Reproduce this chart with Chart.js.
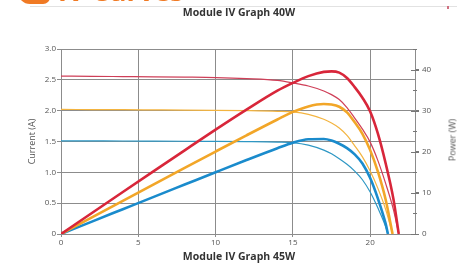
<!DOCTYPE html>
<html>
<head>
<meta charset="utf-8">
<script src="https://cdn.jsdelivr.net/npm/chart.js@4/dist/chart.umd.min.js"></script>
<style>
  body { margin: 0; background: #fff; font-family: "Open Sans", sans-serif; }
  #wrap { position: relative; width: 457px; height: 263px; overflow: hidden; }
  #grafico { position: absolute; left: 0; top: 0; }
  .hdr { position: absolute; left: 58px; top: -23px; font: bold 27px "Open Sans", sans-serif; color: #f07a24; line-height: 1; white-space: nowrap; }
  .logo { position: absolute; left: 18px; top: -8px; width: 32px; height: 12px; background: #f07a24; border-radius: 0 0 8px 14px; }
  .linha { position: absolute; left: 30px; right: 0; top: 6px; border-top: 1px solid #e2e2e2; }
  .marca { position: absolute; left: 447px; top: 6px; width: 2px; height: 3px; background: #d07080; }
  .titulo { position: absolute; left: 0; width: 478px; text-align: center; font: bold 10.5px "Open Sans", sans-serif; color: #333; }
  .eixoDir { position: absolute; left: 452px; top: 140px; transform: translate(-50%, -50%) rotate(-90deg); font: 9px "Open Sans", sans-serif; color: #555; white-space: nowrap; }
</style>
</head>
<body>
<div id="wrap">
  <canvas id="grafico" width="457" height="263"></canvas>
  <div class="logo"></div>
  <div class="hdr">IV Curves</div>
  <div class="linha"></div>
  <div class="marca"></div>
  <div class="titulo" style="top:5px">Module IV Graph 40W</div>
  <div class="titulo" style="top:249px">Module IV Graph 45W</div>
  <div class="eixoDir">Power (W)</div>
</div>
<script>
// tensao (V), corrente (A) e potencia (W)
var vermelhoV = [0, 2, 4, 6, 8, 10, 12, 14, 15, 16, 17, 17.5, 18, 18.5, 19, 19.5, 20, 20.5, 21, 21.5, 21.85];
var vermelhoI = [2.56, 2.557, 2.553, 2.549, 2.544, 2.537, 2.52, 2.49, 2.45, 2.40, 2.32, 2.26, 2.18, 2.05, 1.88, 1.70, 1.49, 1.19, 0.82, 0.40, 0];
var vermelhoP = [0, 5.11, 10.21, 15.29, 20.35, 25.37, 30.24, 34.86, 36.75, 38.4, 39.44, 39.55, 39.24, 37.93, 35.72, 33.15, 29.8, 24.4, 17.2, 8.6, 0];

var laranjaV = [0, 2, 4, 6, 8, 10, 12, 14, 15, 16, 17, 17.5, 18, 18.5, 19, 19.5, 20, 20.5, 21, 21.45];
var laranjaI = [2.02, 2.018, 2.016, 2.013, 2.01, 2.006, 2.0, 1.99, 1.98, 1.94, 1.86, 1.80, 1.72, 1.60, 1.43, 1.25, 1.02, 0.74, 0.40, 0];
var laranjaP = [0, 4.04, 8.06, 12.08, 16.08, 20.06, 24.0, 27.86, 29.7, 31.04, 31.62, 31.5, 30.96, 29.6, 27.17, 24.38, 20.4, 15.17, 8.4, 0];

var azulV = [0, 2, 4, 6, 8, 10, 12, 14, 15, 16, 17, 17.5, 18, 18.5, 19, 19.5, 20, 20.5, 21, 21.15];
var azulI = [1.51, 1.509, 1.508, 1.506, 1.504, 1.502, 1.498, 1.49, 1.48, 1.44, 1.36, 1.30, 1.22, 1.13, 1.02, 0.88, 0.68, 0.42, 0.12, 0];
var azulP = [0, 3.02, 6.03, 9.04, 12.03, 15.02, 17.98, 20.86, 22.2, 23.04, 23.12, 22.75, 21.96, 20.9, 19.38, 17.16, 13.6, 8.61, 2.52, 0];

var ticksX = [0, 5, 10, 15, 20];
var ticksPotencia = [0, 10, 20, 30, 40];

function pontos(xs, ys) {
  var r = [];
  for (var i = 0; i < xs.length; i++) r.push({ x: xs[i], y: ys[i] });
  return r;
}

function serie(dados, cor, largura, eixo, ordem) {
  return {
    data: dados, borderColor: cor, borderWidth: largura, yAxisID: eixo,
    pointRadius: 0, fill: false, cubicInterpolationMode: "monotone", order: ordem
  };
}

var fonteTick = { family: "Open Sans", size: 8 };

// tracinhos do eixo da direita (cruzando a linha do eixo)
var ticksDireita = {
  id: "ticksDireita",
  afterDraw: function (chart) {
    var s = chart.scales.y2, ctx = chart.ctx, x = chart.chartArea.right;
    ctx.save();
    ctx.strokeStyle = "#777";
    ctx.lineWidth = 1;
    for (var v = 0; v <= 45; v += 5) {
      var y = Math.round(s.getPixelForValue(v)) + 0.5;
      var l = (v % 10 === 0) ? 4 : 2;
      ctx.beginPath();
      ctx.moveTo(x - l, y);
      ctx.lineTo(x + l, y);
      ctx.stroke();
    }
    ctx.restore();
  }
};

var ctx = document.getElementById("grafico").getContext("2d");
var grafico = new Chart(ctx, {
  type: "line",
  data: {
    datasets: [
      serie(pontos(vermelhoV, vermelhoI), "#cf3f58", 1.2, "y", 6),
      serie(pontos(laranjaV, laranjaI), "#f3b440", 1.2, "y", 5),
      serie(pontos(azulV, azulI), "#2d97c4", 1.2, "y", 4),
      serie(pontos(vermelhoV, vermelhoP), "#d8263a", 2.6, "y2", 1),
      serie(pontos(laranjaV, laranjaP), "#f2a628", 2.6, "y2", 2),
      serie(pontos(azulV, azulP), "#1a8bcc", 2.6, "y2", 3)
    ]
  },
  options: {
    responsive: false,
    animation: false,
    layout: { padding: { top: 49, left: 0, right: 0, bottom: 0 } },
    plugins: { legend: { display: false }, tooltip: { enabled: false }, title: { display: false } },
    scales: {
      x: {
        type: "linear", min: 0, max: 22.9,
        afterFit: function (s) { s.height = 29; },
        afterBuildTicks: function (s) { s.ticks = ticksX.map(function (v) { return { value: v }; }); },
        ticks: { font: fonteTick, color: "#555", padding: 1, maxRotation: 0 },
        grid: { color: "#8c8c8c", lineWidth: 1, tickLength: 3 },
        border: { color: "#8c8c8c" }
      },
      y: {
        position: "left", min: 0, max: 3,
        afterFit: function (s) { s.width = 61; },
        ticks: {
          stepSize: 0.5, font: fonteTick, color: "#555", padding: 1,
          callback: function (v) { return v === 0 ? "0" : v.toFixed(1); }
        },
        grid: { color: "#8c8c8c", lineWidth: 1, tickLength: 4 },
        border: { color: "#8c8c8c" },
        title: { display: true, text: "Current (A)", font: { family: "Open Sans", size: 9 }, color: "#555", padding: { top: 27, bottom: 0 } }
      },
      y2: {
        position: "right", min: 0, max: 45,
        afterFit: function (s) { s.width = 42; },
        afterBuildTicks: function (s) { s.ticks = ticksPotencia.map(function (v) { return { value: v }; }); },
        ticks: { font: fonteTick, color: "#555", padding: 3 },
        grid: { display: true, drawOnChartArea: false, color: "#777", tickLength: 4 },
        border: { color: "#8c8c8c" }
      }
    }
  },
  plugins: [ticksDireita]
});
</script>
</body>
</html>
